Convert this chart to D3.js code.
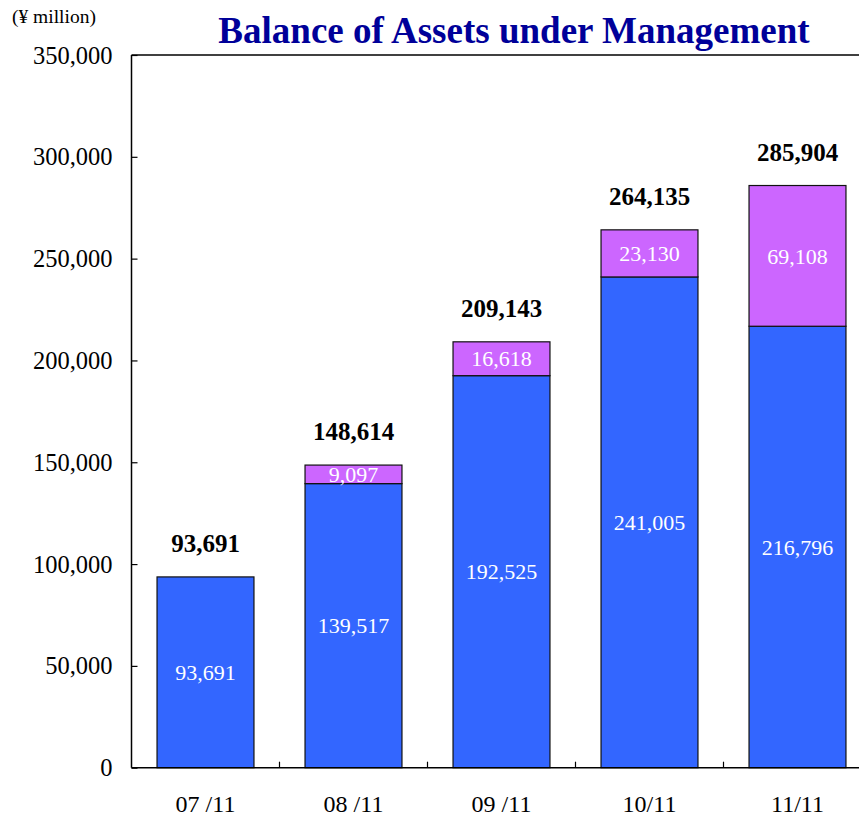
<!DOCTYPE html>
<html>
<head>
<meta charset="utf-8">
<script src="https://cdn.jsdelivr.net/npm/d3@7"></script>
<style>
  body { margin: 0; background: #fff; }
  svg { display: block; font-family: "Liberation Serif", "Times New Roman", serif; }
</style>
</head>
<body>
<div id="chart"></div>
<script>
var categories = ["07 /11", "08 /11", "09 /11", "10/11", "11/11"];
var baseValues = [93691, 139517, 192525, 241005, 216796];
var extraValues = [0, 9097, 16618, 23130, 69108];
var totalValues = [93691, 148614, 209143, 264135, 285904];
var yTicks = [0, 50000, 100000, 150000, 200000, 250000, 300000, 350000];

function drawChart() {
  var svgWidth = 859;
  var svgHeight = 816;

  var margin = { top: 55, left: 131.5 };
  var width = 740;
  var height = 712.7;

  var svg = d3.select("#chart")
    .append("svg")
    .attr("width", svgWidth)
    .attr("height", svgHeight);

  var fmt = d3.format(",");

  var xScale = d3.scaleBand()
    .domain(categories)
    .range([0, width])
    .paddingInner(0.345)
    .paddingOuter(0.1725);

  var yScale = d3.scaleLinear()
    .domain([0, 350000])
    .range([height, 0]);

  // title and unit
  svg.append("text")
    .attr("x", 514)
    .attr("y", 43)
    .attr("text-anchor", "middle")
    .attr("font-size", "37px")
    .attr("font-weight", "bold")
    .attr("fill", "#000099")
    .text("Balance of Assets under Management");

  svg.append("text")
    .attr("x", 12)
    .attr("y", 23)
    .attr("font-size", "19.5px")
    .attr("fill", "#000")
    .text("(¥ million)");

  var chartGroup = svg.append("g")
    .attr("transform", `translate(${margin.left}, ${margin.top})`);

  var data = categories.map(function(c, i) {
    return { cat: c, base: baseValues[i], extra: extraValues[i], total: totalValues[i] };
  });

  // base (blue) bars
  chartGroup.selectAll("rect.base")
    .data(data)
    .enter()
    .append("rect")
    .attr("class", "base")
    .attr("x", d => xScale(d.cat))
    .attr("y", d => yScale(d.base))
    .attr("width", xScale.bandwidth())
    .attr("height", d => yScale(0) - yScale(d.base))
    .attr("fill", "#3366ff")
    .attr("stroke", "#111")
    .attr("stroke-width", 1.2);

  // extra (purple) bars
  chartGroup.selectAll("rect.extra")
    .data(data.filter(d => d.extra > 0))
    .enter()
    .append("rect")
    .attr("class", "extra")
    .attr("x", d => xScale(d.cat))
    .attr("y", d => yScale(d.base + d.extra))
    .attr("width", xScale.bandwidth())
    .attr("height", d => yScale(d.base) - yScale(d.base + d.extra))
    .attr("fill", "#cc66ff")
    .attr("stroke", "#111")
    .attr("stroke-width", 1.2);

  // segment labels
  chartGroup.selectAll("text.baseLabel")
    .data(data)
    .enter()
    .append("text")
    .attr("class", "baseLabel")
    .attr("x", d => xScale(d.cat) + xScale.bandwidth() / 2)
    .attr("y", d => yScale(d.base / 2))
    .attr("dy", "0.35em")
    .attr("text-anchor", "middle")
    .attr("font-size", "22px")
    .attr("fill", "#fff")
    .text(d => fmt(d.base));

  chartGroup.selectAll("text.extraLabel")
    .data(data.filter(d => d.extra > 0))
    .enter()
    .append("text")
    .attr("class", "extraLabel")
    .attr("x", d => xScale(d.cat) + xScale.bandwidth() / 2)
    .attr("y", d => yScale(d.base + d.extra / 2))
    .attr("dy", "0.35em")
    .attr("text-anchor", "middle")
    .attr("font-size", "22px")
    .attr("fill", "#fff")
    .text(d => fmt(d.extra));

  // totals
  chartGroup.selectAll("text.total")
    .data(data)
    .enter()
    .append("text")
    .attr("class", "total")
    .attr("x", d => xScale(d.cat) + xScale.bandwidth() / 2)
    .attr("y", d => yScale(d.total) - 25)
    .attr("text-anchor", "middle")
    .attr("font-size", "25px")
    .attr("font-weight", "bold")
    .attr("fill", "#000")
    .text(d => fmt(d.total));

  // frame: top line
  chartGroup.append("line")
    .attr("x1", 0).attr("x2", width)
    .attr("y1", 0).attr("y2", 0)
    .attr("stroke", "#000")
    .attr("stroke-width", 1.5);

  // y axis, ticks pointing inward
  var yAxis = d3.axisRight(yScale)
    .tickValues(yTicks)
    .tickSize(6)
    .tickFormat("");

  var yg = chartGroup.append("g").call(yAxis);
  yg.select(".domain").attr("stroke", "#000").attr("stroke-width", 1.5).attr("d", `M0,0V${height}`);
  yg.selectAll(".tick line").attr("stroke", "#000").attr("stroke-width", 1.2);

  chartGroup.selectAll("text.yLabel")
    .data(yTicks)
    .enter()
    .append("text")
    .attr("class", "yLabel")
    .attr("x", -19)
    .attr("y", d => yScale(d))
    .attr("dy", "0.35em")
    .attr("text-anchor", "end")
    .attr("font-size", "24.5px")
    .attr("fill", "#000")
    .text(d => fmt(d));

  // x axis, ticks between bands pointing up
  var xg = chartGroup.append("g")
    .attr("transform", `translate(0, ${height})`);

  xg.append("line")
    .attr("x1", 0).attr("x2", width)
    .attr("y1", 0).attr("y2", 0)
    .attr("stroke", "#000")
    .attr("stroke-width", 1.5);

  xg.selectAll("line.xtick")
    .data(categories.slice(1))
    .enter()
    .append("line")
    .attr("class", "xtick")
    .attr("x1", d => xScale(d) - xScale.step() * xScale.paddingInner() / 2)
    .attr("x2", d => xScale(d) - xScale.step() * xScale.paddingInner() / 2)
    .attr("y1", 0)
    .attr("y2", -6)
    .attr("stroke", "#000")
    .attr("stroke-width", 1.2);

  xg.selectAll("text.xLabel")
    .data(categories)
    .enter()
    .append("text")
    .attr("class", "xLabel")
    .attr("x", d => xScale(d) + xScale.bandwidth() / 2)
    .attr("y", 44)
    .attr("text-anchor", "middle")
    .attr("font-size", "24px")
    .attr("fill", "#000")
    .text(d => d);
}

document.addEventListener('DOMContentLoaded', function(){
  drawChart();
});
</script>
</body>
</html>
